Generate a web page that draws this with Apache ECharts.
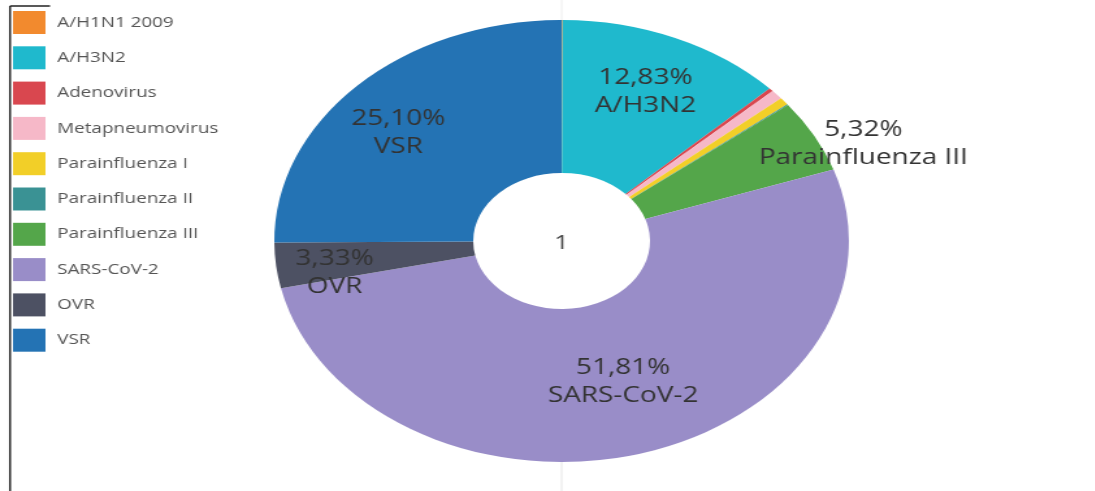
<!DOCTYPE html>
<html>
<head>
<meta charset="utf-8">
<script src="https://cdn.jsdelivr.net/npm/echarts@6/dist/echarts.min.js"></script>
<style>
  html, body { margin: 0; padding: 0; background: #fff; overflow: hidden; }
  #wrap { width: 1095px; height: 491px; overflow: hidden; }
  /* the reference picture is horizontally stretched by ~1.3 */
  #chart { width: 842px; height: 491px; transform: scaleX(1.3); transform-origin: 0 0; }
</style>
</head>
<body>
<div id="wrap"><div id="chart"></div></div>
<script>
const categories = ['A/H1N1 2009', 'A/H3N2', 'Adenovirus', 'Metapneumovirus', 'Parainfluenza I',
                    'Parainfluenza II', 'Parainfluenza III', 'SARS-CoV-2', 'OVR', 'VSR'];
const shares = [0.05, 12.83, 0.25, 0.70, 0.55, 0.06, 5.32, 51.81, 3.33, 25.10];
const centerLabel = '1';

// styling / layout (kept apart from the data)
const colors = ['#f28a2e', '#1fb9cd', '#d9474f', '#f6b8c8', '#f2cf28',
                '#3a9294', '#54a64a', '#998dc8', '#4d5163', '#2473b4'];
const labelRadius = { 'A/H3N2': 0.74, 'Parainfluenza III': 1.14, 'SARS-CoV-2': 0.665, 'OVR': 0.81, 'VSR': 0.76 };
const labelNudge = { 'A/H3N2': [-1.5, 4], 'Parainfluenza III': [6, 25], 'SARS-CoV-2': [7, -4], 'OVR': [7, 11.5], 'VSR': [-4, 12.5] };

const CX = 432, CY = 241, R0 = 68, R = 221;
const insideK = (R + R0) / 2 / R;

const chart = echarts.init(document.getElementById('chart'));
const FONT = 'Open Sans';

const data = categories.map((name, i) => ({
  name: name,
  value: shares[i],
  itemStyle: { color: colors[i] },
  label: { show: labelRadius[name] !== undefined }
}));

chart.setOption({
  animation: false,
  backgroundColor: '#fff',
  color: colors,
  legend: {
    orient: 'vertical',
    left: 10,
    top: 11,
    padding: 0,
    itemWidth: 25,
    itemHeight: 23,
    itemGap: 12.3,
    icon: 'rect',
    selectedMode: false,
    data: categories,
    textStyle: { color: '#555', fontSize: 14.5, fontFamily: FONT, padding: [0, 0, 0, 4] }
  },
  graphic: [
    { type: 'line', z: 0, shape: { x1: CX, y1: 0, x2: CX, y2: CY - R + 1 }, style: { stroke: '#eeeeee', lineWidth: 1 } },
    { type: 'line', z: 0, shape: { x1: CX, y1: CY + R - 1, x2: CX, y2: 491 }, style: { stroke: '#e6e6e6', lineWidth: 1 } },
    { type: 'line', z: 10, shape: { x1: 7.7, y1: 6, x2: 7.7, y2: 491 }, style: { stroke: '#222', lineWidth: 1.5 } },
    { type: 'line', z: 10, shape: { x1: 7.7, y1: 6, x2: 38.5, y2: 6 }, style: { stroke: '#222', lineWidth: 1.5 } },
    { type: 'text', z: 10, x: CX, y: CY + 2, style: { text: centerLabel, fill: '#444', fontSize: 20, fontFamily: FONT, textAlign: 'center', textVerticalAlign: 'middle' } }
  ],
  series: [{
    type: 'pie',
    center: [CX, CY],
    radius: [R0, R],
    startAngle: 90,
    clockwise: true,
    avoidLabelOverlap: false,
    silent: true,
    itemStyle: { borderWidth: 0 },
    label: {
      position: 'inside',
      color: '#333',
      fontSize: 21.5,
      lineHeight: 28,
      fontFamily: FONT,
      formatter: p => p.value.toFixed(2).replace('.', ',') + '%\n' + p.name
    },
    labelLine: { show: false },
    labelLayout: function (params) {
      const name = categories[params.dataIndex];
      const k = labelRadius[name];
      if (k === undefined) return {};
      const r = params.labelRect;
      const lx = r.x + r.width / 2, ly = r.y + r.height / 2;
      const f = k / insideK - 1;
      const n = labelNudge[name] || [0, 0];
      return { dx: (lx - CX) * f + n[0], dy: (ly - CY) * f + n[1] };
    },
    data: data
  }]
});
</script>
</body>
</html>
